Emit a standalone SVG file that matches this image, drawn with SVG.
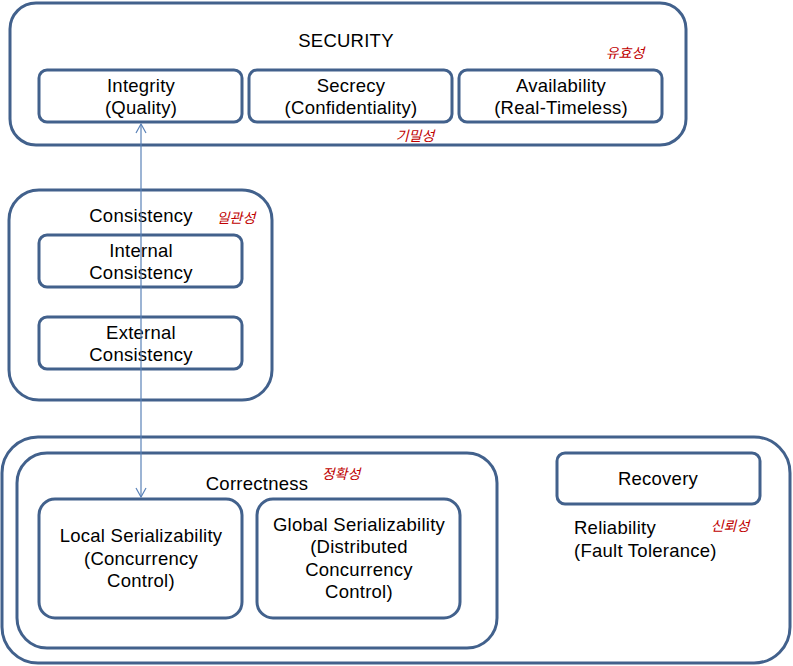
<svg xmlns="http://www.w3.org/2000/svg" width="793" height="666" viewBox="0 0 793 666">
<style>
.box{fill:#fff;stroke:#42618C;stroke-width:3}
.t{font-family:"Liberation Sans","Noto Sans CJK KR",sans-serif;font-size:18.5px;letter-spacing:0.25px;fill:#000;text-anchor:middle}
.k{font-family:"Noto Sans CJK KR",sans-serif;font-size:14px;fill:#C00000;font-style:italic;text-anchor:middle}
.c{stroke:#5A82B8;stroke-width:1.2;fill:none}
</style>
<defs>
<marker id="ah" markerWidth="12" markerHeight="12" refX="10" refY="6" orient="auto" markerUnits="userSpaceOnUse">
<path d="M1,1 L10,6 L1,11" fill="none" stroke="#5A82B8" stroke-width="1.2"/>
</marker>
</defs>
<rect width="793" height="666" fill="#fff"/>
<g id="security">
<rect class="box" x="10" y="3" width="676" height="142" rx="26"/>
<text class="t" x="346" y="47">SECURITY</text>
<text class="k" x="625" y="58">유효성</text>
<text class="k" x="415" y="141">기밀성</text>
</g>
<g id="integrity">
<rect class="box" x="39" y="70" width="203" height="52" rx="8"/>
<text class="t" x="141" y="92">Integrity</text>
<text class="t" x="141" y="114">(Quality)</text>
</g>
<g id="secrecy">
<rect class="box" x="249" y="70" width="203" height="52" rx="8"/>
<text class="t" x="351" y="92">Secrecy</text>
<text class="t" x="351" y="114">(Confidentiality)</text>
</g>
<g id="availability">
<rect class="box" x="459" y="70" width="203" height="52" rx="8"/>
<text class="t" x="561" y="92">Availability</text>
<text class="t" x="561" y="114">(Real-Timeless)</text>
</g>
<g id="consistency">
<rect class="box" x="9" y="190" width="263" height="210" rx="30"/>
<text class="t" x="141" y="222">Consistency</text>
<text class="k" x="236" y="223">일관성</text>
</g>
<g id="internal">
<rect class="box" x="39" y="235" width="203" height="52" rx="8"/>
<text class="t" x="141" y="257">Internal</text>
<text class="t" x="141" y="279">Consistency</text>
</g>
<g id="external">
<rect class="box" x="39" y="317" width="203" height="52" rx="8"/>
<text class="t" x="141" y="339">External</text>
<text class="t" x="141" y="361">Consistency</text>
</g>
<g id="reliability">
<rect class="box" x="2" y="437" width="788" height="226" rx="36"/>
<text class="t" x="574" y="534" style="text-anchor:start">Reliability</text>
<text class="t" x="574" y="557" style="text-anchor:start">(Fault Tolerance)</text>
<text class="k" x="730" y="531">신뢰성</text>
</g>
<g id="correctness">
<rect class="box" x="17" y="453" width="480" height="195" rx="30"/>
<text class="t" x="257" y="490">Correctness</text>
<text class="k" x="341" y="479">정확성</text>
</g>
<g id="local">
<rect class="box" x="39" y="499" width="203" height="119" rx="16"/>
<text class="t" x="141" y="542">Local Serializability</text>
<text class="t" x="141" y="565">(Concurrency</text>
<text class="t" x="141" y="587">Control)</text>
</g>
<g id="global">
<rect class="box" x="257" y="499" width="203" height="119" rx="16"/>
<text class="t" x="359" y="531">Global Serializability</text>
<text class="t" x="359" y="553">(Distributed</text>
<text class="t" x="359" y="576">Concurrency</text>
<text class="t" x="359" y="598">Control)</text>
</g>
<g id="recovery">
<rect class="box" x="557" y="453" width="203" height="51" rx="8"/>
<text class="t" x="658" y="485">Recovery</text>
</g>
<g id="connectors">
<line class="c" x1="141" y1="310" x2="141" y2="124" marker-end="url(#ah)"/>
<line class="c" x1="141" y1="310" x2="141" y2="497" marker-end="url(#ah)"/>
</g>
</svg>
